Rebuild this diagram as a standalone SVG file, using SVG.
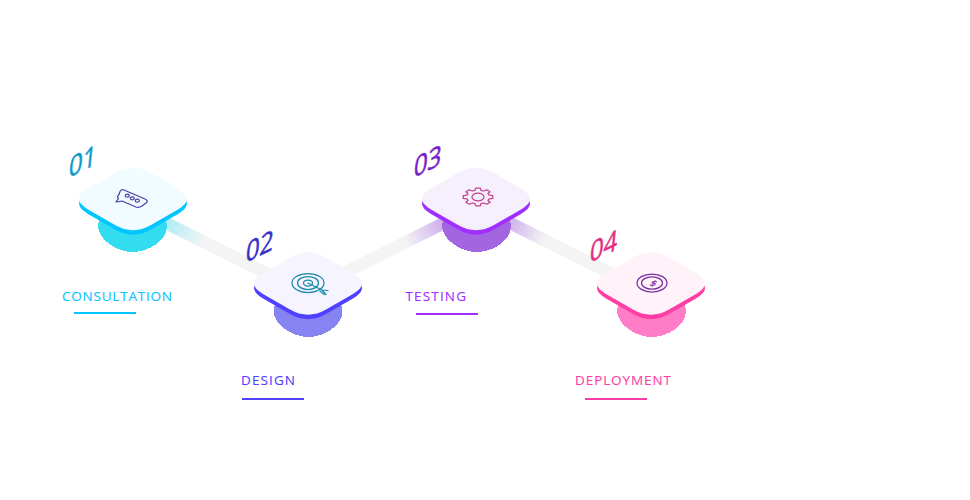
<svg xmlns="http://www.w3.org/2000/svg" width="970" height="500" viewBox="0 0 970 500">
<style>
.num{font-family:"Open Sans","Liberation Sans",sans-serif;font-size:27.5px;stroke-width:.5}
.lab{font-family:"Open Sans","Liberation Sans",sans-serif;font-size:13.5px;stroke-width:.1}
.band{fill:none;stroke-width:12.5}
.blob{shape-rendering:crispEdges}
.ico{fill:none;stroke-width:1.25;stroke-linejoin:round;stroke-linecap:round;vector-effect:non-scaling-stroke}
.c1{fill:#00c6ff;stroke:#00c6ff}.c2{fill:#5040ff;stroke:#5040ff}.c3{fill:#a02fff;stroke:#a02fff}.c4{fill:#ff3ea5;stroke:#ff3ea5}
rect,use{stroke:none !important}
</style>
<defs>
<path id="tile" d="M-18,-26.100Q0,-36.500 18,-26.100L45,-10.400Q63,0 45,10.400L18,26.100Q0,36.500 -18,26.100L-45,10.400Q-63,0 -45,-10.400Z"/>
<path id="blob" d="M-34.500,-3C-34.500,11 -15,23 0,23C17,23 34.500,11 34.500,-3C34.500,-14 20,-24 0,-24C-20,-24 -34.500,-14 -34.500,-3Z"/>
<linearGradient id="g1" gradientUnits="userSpaceOnUse" x1="160" y1="220" x2="205" y2="242"><stop offset="0" stop-color="#a5ecf6"/><stop offset="1" stop-color="#f4f4f4"/></linearGradient>
<linearGradient id="g2" gradientUnits="userSpaceOnUse" x1="442" y1="224" x2="405" y2="242"><stop offset="0" stop-color="#cfb0ee"/><stop offset="1" stop-color="#f4f4f4"/></linearGradient>
<linearGradient id="g3" gradientUnits="userSpaceOnUse" x1="508" y1="222" x2="545" y2="240"><stop offset="0" stop-color="#cfb0ee"/><stop offset="1" stop-color="#f4f4f4"/></linearGradient>
</defs>
<g id="connectors">
<line class="band" stroke="url(#g1)" x1="150" y1="215" x2="290" y2="285"/>
<line class="band" stroke="url(#g2)" x1="330" y1="280" x2="460" y2="215"/>
<line class="band" stroke="url(#g3)" x1="490" y1="213" x2="640" y2="288"/>
</g>
<g id="node-1">
<use href="#blob" class="blob" x="132.500" y="229" fill="#33dcef"/>
<use href="#tile" class="c1" x="133" y="203.500"/>
<use href="#tile" x="133" y="199" fill="#f2fbff"/>
<path class="ico" stroke="#4a3fa8" d="M124,190L145,199Q149,201 146,203L142,206Q139,208 136,207L122,201L116,202L118.500,198.500Q116.500,197 119,194.500L120,191.500Q121.500,189 124,190Z"/>
<ellipse class="ico" stroke="#4a3fa8" cx="127.300" cy="195.700" rx="2" ry="1.500"/>
<ellipse class="ico" stroke="#4a3fa8" cx="132.300" cy="198.300" rx="2" ry="1.500"/>
<ellipse class="ico" stroke="#4a3fa8" cx="137.300" cy="200.700" rx="2" ry="1.500"/>
<text class="num" fill="#0b9ac8" stroke="#0b9ac8" transform="translate(68,178) skewY(-26) skewX(-6) scale(.88,1)">01</text>
<text class="lab c1" x="62" y="301" textLength="110">CONSULTATION</text>
<rect class="c1" x="74" y="312" width="62" height="2"/>
</g>
<g id="node-2">
<use href="#blob" class="blob" x="308" y="314" fill="#8584f2"/>
<use href="#tile" class="c2" x="308" y="288"/>
<use href="#tile" x="308" y="283.500" fill="#f6f5ff"/>
<ellipse class="ico" stroke="#1c8aa8" cx="308" cy="283" rx="16" ry="9.500"/>
<ellipse class="ico" stroke="#1c8aa8" cx="308" cy="283" rx="10.500" ry="6.500"/>
<ellipse class="ico" stroke="#1c8aa8" cx="308" cy="283" rx="4.500" ry="3"/>
<path class="ico" stroke="#1c8aa8" d="M308,283L322,290M322,290L328,290.500M322,290L326,294.500M320,291L324,294.500"/>
<text class="num" fill="#3a2fc4" stroke="#3a2fc4" transform="translate(245,263) skewY(-26) skewX(-6) scale(.88,1)">02</text>
<text class="lab c2" x="241" y="385" textLength="54">DESIGN</text>
<rect class="c2" x="242" y="398" width="62" height="2"/>
</g>
<g id="node-3">
<use href="#blob" class="blob" x="476.500" y="229" fill="#a366e0"/>
<use href="#tile" class="c3" x="476" y="203.500"/>
<use href="#tile" x="476" y="199" fill="#f6f0fc"/>
<path class="ico" stroke="#c0408f" transform="translate(478,197) scale(1,.6)" d="M11.100,-3L14.800,-2.300 14.800,2.300 11.100,3 10,5.750 12.100,8.800 8.800,12.100 5.750,10 3,11.100 2.300,14.800 -2.300,14.800 -3,11.100 -5.750,10 -8.800,12.100 -12.100,8.800 -10,5.750 -11.100,3 -14.800,2.300 -14.800,-2.300 -11.100,-3 -10,-5.750 -12.100,-8.800 -8.800,-12.100 -5.750,-10 -3,-11.100 -2.300,-14.800 2.300,-14.800 3,-11.100 5.750,-10 8.800,-12.100 12.100,-8.800 10,-5.750Z"/>
<ellipse class="ico" stroke="#c0408f" cx="478" cy="197" rx="6" ry="3.800"/>
<text class="num" fill="#7a1fc4" stroke="#7a1fc4" transform="translate(413,178) skewY(-26) skewX(-6) scale(.88,1)">03</text>
<text class="lab c3" x="405.500" y="301" textLength="60.500">TESTING</text>
<rect class="c3" x="416" y="313" width="62" height="2"/>
</g>
<g id="node-4">
<use href="#blob" class="blob" x="651.500" y="314" fill="#ff7cc6"/>
<use href="#tile" class="c4" x="651" y="288"/>
<use href="#tile" x="651" y="283.500" fill="#fff3f9"/>
<ellipse class="ico" stroke="#7a2fa5" cx="652" cy="283" rx="15" ry="9"/>
<ellipse class="ico" stroke="#7a2fa5" cx="652" cy="283" rx="10.500" ry="6.200"/>
<text font-family="Liberation Sans, sans-serif" font-size="10" fill="#7a2fa5" stroke="#7a2fa5" stroke-width=".3" text-anchor="middle" transform="translate(652,286) skewX(-30) scale(1,.75)">$</text>
<text class="num" fill="#e0307f" stroke="#e0307f" transform="translate(589,263) skewY(-26) skewX(-6) scale(.88,1)">04</text>
<text class="lab c4" x="575" y="385" textLength="96">DEPLOYMENT</text>
<rect class="c4" x="585" y="398" width="62" height="2"/>
</g>
</svg>
